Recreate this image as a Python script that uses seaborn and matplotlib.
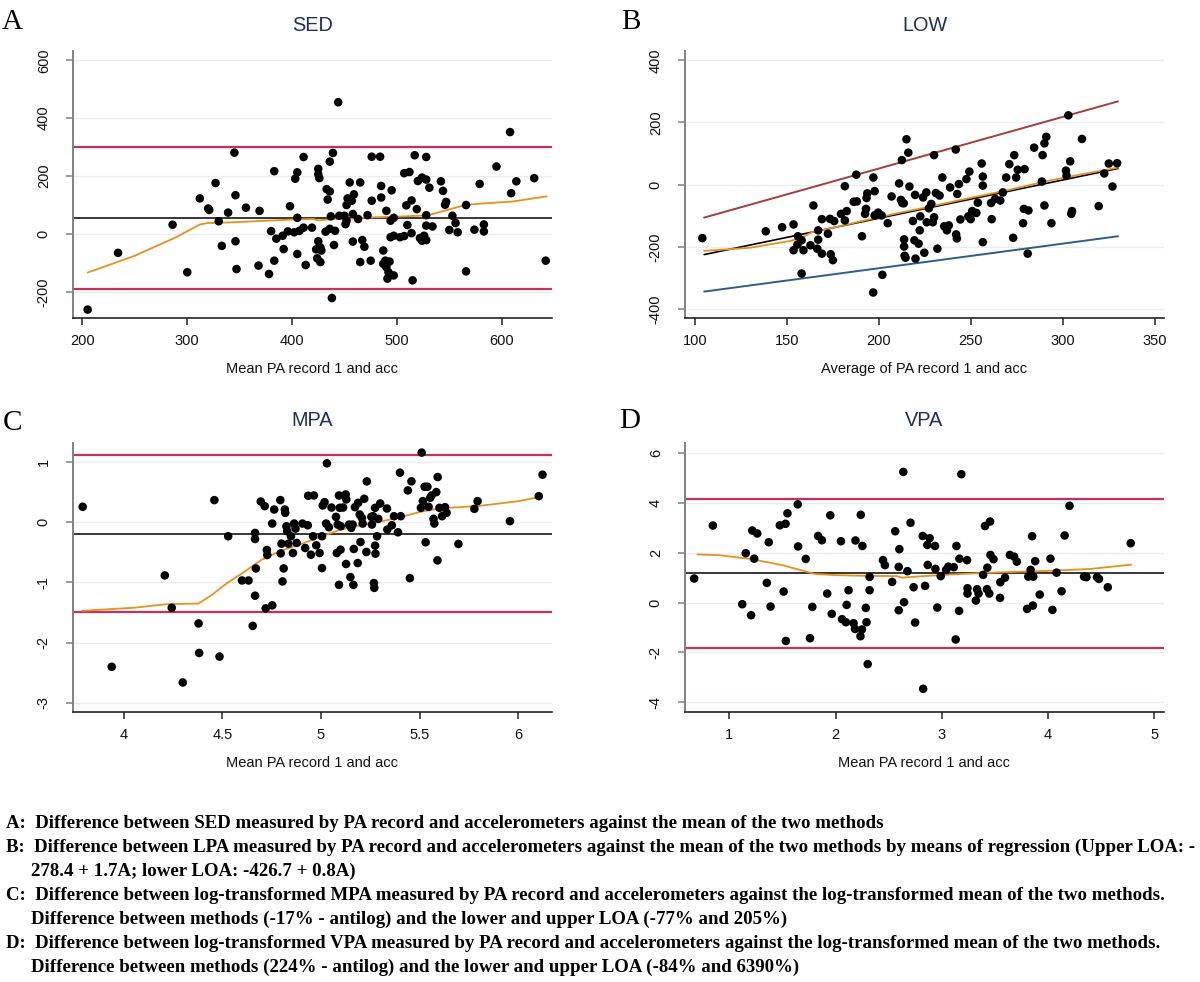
import numpy as np
import pandas as pd
import matplotlib
matplotlib.use("Agg")
import matplotlib.pyplot as plt
import seaborn as sns

# ---------------- data ----------------
# Panel A: SED (mean, difference)
sed_points = [(205,-261),(234,-65),(286,32),(300,-132),(312,123),(320,88),(321,83),(327,176),(330,44),(333,-41),(339,74),(345,281),(346,134),(346,-25),(347,-121),(356,91),(369,80),(368,-109),(378,-138),(380,10),(383,217),(383,-92),(385,-16),(392,-52),(391,-6),(396,9),(398,96),(403,191),(405,213),(402,6),(405,56),(405,-69),(407,11),(411,266),(411,22),(413,-107),(419,22),(425,225),(425,206),(426,193),(425,-25),(423,-53),(424,-84),(427,-46),(428,-57),(427,-97),(432,8),(433,155),(436,147),(434,119),(436,250),(436,18),(437,61),(439,280),(441,11),(440,-38),(438,-221),(444,455),(445,63),(450,63),(451,34),(453,123),(452,100),(452,46),(455,178),(457,115),(459,137),(458,-26),(458,69),(463,52),(465,178),(465,-97),(467,-21),(469,-44),(472,65),(475,-92),(476,115),(476,267),(484,267),(485,166),(485,126),(487,-57),(487,-103),(489,-92),(490,80),(490,-115),(492,-132),(491,-154),(493,-95),(494,46),(495,151),(494,-11),(497,-143),(497,-6),(497,56),(503,-11),(507,-7),(507,210),(510,31),(509,99),(512,214),(514,3),(514,116),(515,-160),(517,272),(519,86),(520,183),(522,-14),(524,-23),(524,195),(526,-6),(528,266),(528,188),(528,-21),(528,29),(528,65),(531,160),(534,26),(542,182),(544,149),(546,101),(547,111),(550,14),(553,63),(556,38),(558,6),(566,100),(566,-129),(574,15),(579,173),(583,33),(583,9),(595,233),(609,141),(608,352),(614,182),(631,193),(642,-92)]
sed_smooth_x = [205, 250, 290, 312, 320, 340, 400, 420, 425, 440, 460, 480, 500, 520, 530, 550, 565, 580, 610, 643]
sed_smooth_y = [-133, -75, -10, 33, 38, 40, 50, 52, 47, 52, 54, 58, 60, 63, 65, 85, 100, 105, 112, 130]
sed_bias = 55
sed_loa = [-190, 302]

# Panel B: LOW (average, difference)
low_points = [(104,-172),(138.5,-150),(147.4,-137),(153.6,-128),(153.6,-211),(156,-166),(155.7,-193),(158,-179),(158,-286),(159,-211),(162.8,-195),(164.4,-67),(166.5,-206),(167,-147),(167,-177),(169,-111),(169,-222),(172.3,-158),(173.4,-110),(173.8,-224),(175,-243),(175.7,-117),(179.4,-94),(181.5,-5),(181.5,-115),(182.5,-85),(186.3,-55),(187.7,32),(188,-54),(190.8,-166),(192.5,-94),(193,-78),(193.3,-43),(193.7,-28),(197,23),(197.7,-21),(197.7,-99),(196.9,-347),(199.6,-90),(201.5,-99),(201.9,-290),(204.8,-124),(206.9,-38),(211,4),(212,-49),(212.5,79),(212.7,-59),(213.5,-60),(213.7,-176),(213.7,-199),(214,-229),(214.5,-235),(215,146),(216,103),(216.6,-6),(218.5,-117),(219.7,-33),(219.3,-179),(219.9,-238),(221.6,-190),(222.2,-147),(222.5,-102),(224,-41),(224.7,-219),(225.8,-25),(226,-121),(227.2,-76),(228.5,-62),(229.3,-121),(230,-105),(230,95),(231,-27),(231.8,-206),(233,-35),(234.5,23),(235.5,-134),(237,-147),(238,-131),(238.7,-9),(241.8,113),(242,-160),(242.4,-173),(242.6,-30),(243.5,2),(244.3,-112),(247.6,18),(248.6,-102),(249.2,42),(249.9,-111),(250.7,-85),(253,-91),(253.8,-58),(255.9,68),(256.5,26),(256.5,-3),(256.5,-185),(261,-59),(261.3,-111),(263.2,-46),(266,-51),(267.4,-25),(269.2,23),(270.9,66),(273,-171),(273.6,95),(274.6,23),(275.5,48),(278.4,-124),(279.2,50),(278.8,-78),(281.3,-83),(280.9,-222),(284.4,119),(288.6,10),(289,95),(290,133),(290,-67),(291,154),(293.8,-124),(301.7,45),(302,29),(303,223),(304,75),(304.6,-94),(305,-85),(310.4,147),(319.5,-69),(322.5,36),(325,68),(327,-6),(329.5,69)]
low_line_x = [105, 330]
low_regression_y = [-225, 52]
low_upper_y = [-106, 268]
low_lower_y = [-344, -166]
low_smooth_x = [105, 130, 152, 158, 164, 172, 190, 210, 230, 250, 270, 290, 310, 330]
low_smooth_y = [-213, -203, -181, -170, -152, -143, -118, -92, -68, -42, -18, 10, 33, 55]

# Panel C: MPA (log mean, log difference)
mpa_points = [(3.793,0.256),(3.94,-2.4),(4.209,-0.883),(4.244,-1.42),(4.30,-2.66),(4.38,-1.68),(4.383,-2.17),(4.46,0.367),(4.486,-2.23),(4.53,-0.233),(4.60,-0.967),(4.633,-0.967),(4.654,-1.72),(4.666,-0.178),(4.666,-0.278),(4.67,-0.767),(4.666,-1.22),(4.695,0.344),(4.715,0.267),(4.72,-1.43),(4.726,-0.461),(4.728,-0.544),(4.753,-0.022),(4.753,-1.38),(4.763,0.211),(4.794,0.367),(4.796,-0.517),(4.80,-0.356),(4.805,-0.983),(4.811,-0.767),(4.817,0.211),(4.819,0.156),(4.825,-0.067),(4.829,-0.15),(4.835,-0.356),(4.848,-0.233),(4.858,-0.511),(4.864,-0.022),(4.871,-0.106),(4.877,-0.344),(4.906,-0.022),(4.92,-0.428),(4.933,-0.05),(4.935,0.439),(4.949,-0.539),(4.96,-0.233),(4.964,0.444),(4.976,-0.383),(4.993,-0.511),(5.005,-0.761),(5.005,-0.233),(5.009,0.278),(5.018,0.333),(5.026,-0.022),(5.03,0.978),(5.04,-0.083),(5.053,0.244),(5.076,0.089),(5.08,-0.511),(5.085,-0.039),(5.091,0.444),(5.091,-1.04),(5.095,0.239),(5.099,-0.456),(5.10,-0.067),(5.112,0.244),(5.125,0.461),(5.127,-0.694),(5.128,0.378),(5.142,-0.039),(5.149,-0.911),(5.153,-0.094),(5.16,-0.039),(5.166,-0.444),(5.164,-1.04),(5.172,0.25),(5.186,-0.678),(5.188,0.322),(5.196,0.128),(5.20,-0.328),(5.207,0.072),(5.211,-0.022),(5.219,0.389),(5.23,-0.494),(5.232,0.678),(5.255,0.089),(5.258,-0.039),(5.264,0.1),(5.268,-1.01),(5.27,-1.09),(5.274,-0.389),(5.276,-0.522),(5.274,0.239),(5.284,-0.233),(5.29,0.056),(5.30,0.311),(5.334,0.228),(5.336,-0.122),(5.359,-0.05),(5.37,0.1),(5.39,-0.167),(5.40,0.822),(5.404,0.1),(5.44,0.528),(5.45,-0.928),(5.458,0.678),(5.506,0.239),(5.51,1.156),(5.516,0.35),(5.525,0.589),(5.53,-0.333),(5.539,0.589),(5.545,0.256),(5.553,0.406),(5.56,0.444),(5.57,0.056),(5.574,-0.022),(5.584,0.5),(5.59,-0.633),(5.591,0.75),(5.6,0.239),(5.613,0.1),(5.628,0.25),(5.636,0.156),(5.696,-0.361),(5.777,0.222),(5.793,0.35),(5.957,0.017),(6.103,0.433),(6.122,0.789)]
mpa_smooth_x = [3.79, 4.05, 4.22, 4.38, 4.45, 4.52, 4.6, 4.7, 4.8, 4.9, 5.0, 5.1, 5.2, 5.3, 5.4, 5.5, 5.6, 5.8, 6.0, 6.11]
mpa_smooth_y = [-1.47, -1.42, -1.36, -1.35, -1.2, -1.02, -0.85, -0.62, -0.47, -0.36, -0.24, -0.12, -0.05, 0.01, 0.08, 0.17, 0.23, 0.27, 0.35, 0.42]
mpa_bias = -0.19
mpa_loa = [-1.49, 1.12]

# Panel D: VPA (log mean, log difference)
vpa_points = [(0.669,0.963),(0.845,3.09),(1.122,-0.067),(1.155,1.98),(1.205,-0.508),(1.216,2.89),(1.234,1.76),(1.263,2.77),(1.353,0.789),(1.371,2.42),(1.388,-0.16),(1.475,3.10),(1.511,0.441),(1.529,3.16),(1.532,-1.54),(1.547,3.58),(1.644,3.94),(1.647,2.25),(1.719,1.75),(1.759,-1.43),(1.781,-0.174),(1.835,2.67),(1.871,2.50),(1.921,0.361),(1.95,3.50),(1.964,-0.455),(2.05,2.46),(2.061,-0.668),(2.097,-0.789),(2.104,-0.094),(2.122,0.495),(2.169,-0.829),(2.183,-1.06),(2.187,2.49),(2.234,-1.35),(2.237,3.52),(2.248,-1.08),(2.252,2.27),(2.284,-0.214),(2.291,-0.789),(2.302,-2.47),(2.32,1.03),(2.32,0.495),(2.446,1.70),(2.464,1.50),(2.532,0.829),(2.561,2.86),(2.594,1.43),(2.594,-0.307),(2.60,2.14),(2.637,5.24),(2.644,0.013),(2.676,1.26),(2.705,3.20),(2.734,0.615),(2.748,-0.802),(2.82,2.67),(2.824,-3.46),(2.842,0.668),(2.863,2.31),(2.867,1.51),(2.885,2.58),(2.935,2.27),(2.939,1.35),(2.957,-0.2),(2.989,1.06),(3.04,1.31),(3.061,1.44),(3.112,1.42),(3.137,2.27),(3.13,-1.48),(3.162,-0.334),(3.165,1.76),(3.183,5.15),(3.237,1.70),(3.241,0.575),(3.241,0.361),(3.32,0.08),(3.331,0.535),(3.345,0.361),(3.388,1.11),(3.406,3.07),(3.428,1.40),(3.424,0.535),(3.446,0.361),(3.453,3.25),(3.457,1.91),(3.486,1.74),(3.55,0.815),(3.547,0.187),(3.594,1.00),(3.64,1.91),(3.68,1.84),(3.705,1.64),(3.802,-0.254),(3.813,1.04),(3.835,1.31),(3.849,2.66),(3.856,-0.12),(3.86,1.04),(3.878,1.66),(3.921,0.321),(4.022,1.76),(4.04,-0.294),(4.079,1.20),(4.126,0.455),(4.155,2.69),(4.201,3.88),(4.338,1.04),(4.36,1.02),(4.46,1.02),(4.478,0.949),(4.561,0.615),(4.777,2.38)]
vpa_smooth_x = [0.7, 0.9, 1.2, 1.5, 1.8, 2.0, 2.3, 2.58, 2.62, 2.9, 3.2, 3.6, 4.0, 4.4, 4.78]
vpa_smooth_y = [1.93, 1.9, 1.75, 1.5, 1.15, 1.1, 1.07, 1.06, 1.0, 1.08, 1.15, 1.22, 1.27, 1.35, 1.52]
vpa_bias = 1.18
vpa_loa = [-1.84, 4.17]

titles = ["SED", "LOW", "MPA", "VPA"]
letters = ["A", "B", "C", "D"]
xlabels = ["Mean PA record 1 and acc", "Average of PA record 1 and acc",
           "Mean PA record 1 and acc", "Mean PA record 1 and acc"]
captions = [
    "A:  Difference between SED measured by PA record and accelerometers against the mean of the two methods",
    "B:  Difference between LPA measured by PA record and accelerometers against the mean of the two methods by means of regression (Upper LOA: -",
    "278.4 + 1.7A; lower LOA: -426.7 + 0.8A)",
    "C:  Difference between log-transformed MPA measured by PA record and accelerometers against the log-transformed mean of the two methods.",
    "Difference between methods (-17% - antilog) and the lower and upper LOA (-77% and 205%)",
    "D:  Difference between log-transformed VPA measured by PA record and accelerometers against the log-transformed mean of the two methods.",
    "Difference between methods (224% - antilog) and the lower and upper LOA (-84% and 6390%)",
]

# ---------------- style ----------------
sns.set_style("white")
plt.rcParams['font.family'] = ['Liberation Sans', 'DejaVu Sans']
plt.rcParams['axes.unicode_minus'] = False

W, H = 1200, 982
fig = plt.figure(figsize=(W / 100, H / 100), dpi=100)

RED = "#c8305a"
ORANGE = "#e8901c"
NAVY = "#1f2d5a"
GRID = "#e6eef0"


def px_axes(left, top, right, bottom):
    return fig.add_axes([left / W, 1 - bottom / H, (right - left) / W, (bottom - top) / H])


def style(ax, xlim, ylim, xticks, yticks, xlabel, hpx):
    ax.set_xlim(*xlim)
    ax.set_ylim(*ylim)
    ax.set_xticks(xticks)
    ax.set_yticks(yticks)
    ax.grid(axis='y', color=GRID, lw=1.0)
    ax.grid(axis='x', visible=False)
    ax.set_axisbelow(True)
    for s in ['top', 'right']:
        ax.spines[s].set_visible(False)
    ax.spines['left'].set_color('#808080')
    ax.spines['left'].set_linewidth(1.4)
    ax.spines['bottom'].set_color('#222222')
    ax.spines['bottom'].set_linewidth(1.2)
    ax.tick_params(axis='x', direction='out', length=5, width=1.1, color='#222222',
                   pad=6.5, labelsize=10.5, labelcolor='#111111', bottom=True)
    ax.tick_params(axis='y', direction='out', length=5, width=1.1, color='#808080',
                   pad=11, labelsize=10.5, labelcolor='#111111', left=True)
    for lab in ax.get_yticklabels():
        lab.set_rotation(90)
        lab.set_va('center')
        lab.set_ha('right')
    ax.set_xlabel(xlabel, fontsize=10.5, color='#111111', va='baseline')
    ax.xaxis.set_label_coords(0.5, -55 / hpx)
    ax.set_ylabel("")


def scatter(ax, pts):
    df = pd.DataFrame(pts, columns=['mean', 'diff'])
    sns.scatterplot(data=df, x='mean', y='diff', ax=ax, color='black', s=38,
                    edgecolor='none', linewidth=0, zorder=4, legend=False)


def smooth(ax, xs, ys):
    sns.lineplot(x=xs, y=ys, ax=ax, color=ORANGE, lw=1.3, sort=False,
                 estimator=None, zorder=3)


# Panel A
axA = px_axes(73, 51, 552, 318)
scatter(axA, sed_points)
axA.axhline(sed_bias, color='black', lw=1.1, zorder=2)
for v in sed_loa:
    axA.axhline(v, color=RED, lw=1.6, zorder=2)
smooth(axA, sed_smooth_x, sed_smooth_y)
style(axA, (191, 648), (-290, 632), [200, 300, 400, 500, 600], [-200, 0, 200, 400, 600], xlabels[0], 267)

# Panel B
axB = px_axes(685, 51, 1164, 318)
scatter(axB, low_points)
sns.lineplot(x=low_line_x, y=low_upper_y, ax=axB, color="#a63c3c", lw=1.4, zorder=2)
sns.lineplot(x=low_line_x, y=low_lower_y, ax=axB, color="#2f5c88", lw=1.4, zorder=2)
sns.lineplot(x=low_line_x, y=low_regression_y, ax=axB, color='black', lw=1.2, zorder=3)
smooth(axB, low_smooth_x, low_smooth_y)
style(axB, (94.6, 355), (-429, 430), [100, 150, 200, 250, 300, 350], [-400, -200, 0, 200, 400], xlabels[1], 267)

# Panel C
axC = px_axes(73, 443, 552, 712)
scatter(axC, mpa_points)
axC.axhline(mpa_bias, color='black', lw=1.1, zorder=2)
for v in mpa_loa:
    axC.axhline(v, color=RED, lw=1.6, zorder=2)
smooth(axC, mpa_smooth_x, mpa_smooth_y)
style(axC, (3.744, 6.17), (-3.15, 1.315), [4, 4.5, 5, 5.5, 6], [-3, -2, -1, 0, 1], xlabels[2], 269)
axC.set_xticklabels(["4", "4.5", "5", "5.5", "6"])

# Panel D
axD = px_axes(685, 443, 1164, 712)
scatter(axD, vpa_points)
axD.axhline(vpa_bias, color='black', lw=1.1, zorder=2)
for v in vpa_loa:
    axD.axhline(v, color=RED, lw=1.6, zorder=2)
smooth(axD, vpa_smooth_x, vpa_smooth_y)
style(axD, (0.583, 5.09), (-4.39, 6.4), [1, 2, 3, 4, 5], [-4, -2, 0, 2, 4, 6], xlabels[3], 269)


def ftext(x, y, s, **kw):
    fig.text(x / W, 1 - y / H, s, **kw)


# titles
for (cx, by), t in zip([(312.5, 31), (924.5, 31), (312.5, 425.5), (924.5, 425.5)], titles):
    ftext(cx, by, t, ha='center', va='baseline', fontsize=14.3, color=NAVY)

# panel letters
for (lx, by), t in zip([(2, 29), (621, 29), (3, 430), (619, 428)], letters):
    ftext(lx, by, t, ha='left', va='baseline', fontsize=21,
          family=['Liberation Serif', 'DejaVu Serif'], color='black')

# caption
cap_pos = [(6, 828), (6, 852), (31, 876), (6, 900), (31, 924), (6, 948), (31, 972)]
for (cx, by), t in zip(cap_pos, captions):
    ftext(cx, by, t, ha='left', va='baseline', fontsize=13.6, fontweight='bold',
          family=['Liberation Serif', 'DejaVu Serif'], color='black')

fig.savefig("out.png", dpi=100, facecolor='white')
